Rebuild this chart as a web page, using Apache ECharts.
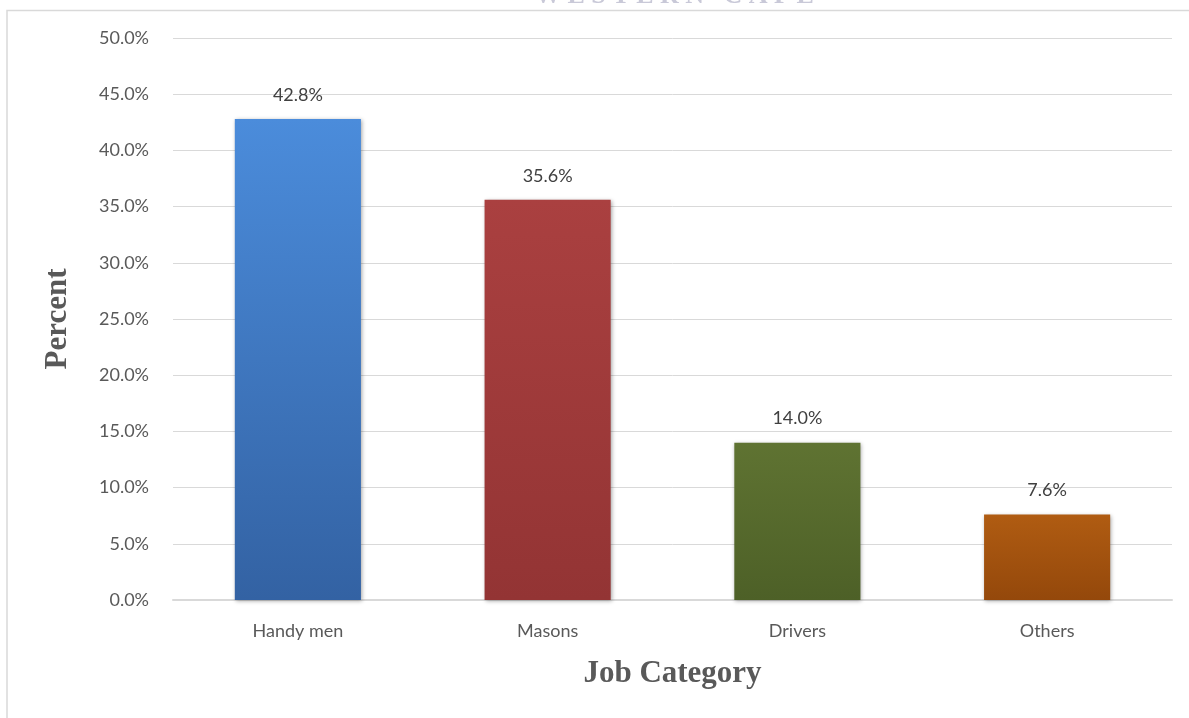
<!DOCTYPE html>
<html>
<head>
<meta charset="utf-8">
<script src="https://cdn.jsdelivr.net/npm/echarts@6/dist/echarts.min.js"></script>
<style>
  html, body { margin: 0; padding: 0; background: #fff; }
  #main { width: 1189px; height: 718px; }
</style>
</head>
<body>
<div id="main"></div>
<script>
var myChart = echarts.init(document.getElementById('main'));

// data
let categories = ['Handy men', 'Masons', 'Drivers', 'Others'];
let percents = [42.8, 35.6, 14.0, 7.6];
// top / bottom colours of each bar (bevel look)
let barTop = ['#4b8cdb', '#aa4040', '#5f7332', '#b05c12'];
let barBottom = ['#3362a3', '#933434', '#4d6027', '#94480b'];

function grad(i) {
    return new echarts.graphic.LinearGradient(0, 0, 0, 1, [
        { offset: 0, color: barTop[i] },
        { offset: 1, color: barBottom[i] }
    ]);
}

let textFont = 'Lato, "Open Sans", sans-serif';

option = {
    backgroundColor: '#ffffff',
    animation: false,
    graphic: [
        {
            // watermark cut off at the top
            type: 'text',
            left: 535,
            top: -17,
            style: {
                text: 'W E S T E R N   C A P E',
                font: 'bold 26px "Liberation Serif", serif',
                fill: '#c9c9d8'
            }
        },
        {
            type: 'polyline',
            shape: { points: [[7, 718], [7, 10.5], [1189, 10.5]] },
            style: { stroke: '#d9d9d9', lineWidth: 1.5, fill: null }
        }
    ],
    grid: {
        left: 173,
        right: 17,
        top: 38,
        bottom: 118
    },
    xAxis: {
        type: 'category',
        data: categories,
        name: 'Job Category',
        nameLocation: 'middle',
        nameGap: 58,
        nameTextStyle: {
            fontFamily: '"Liberation Serif", serif',
            fontWeight: 'bold',
            fontSize: 31,
            color: '#595959'
        },
        axisLine: { lineStyle: { color: '#d9d9d9', width: 2 } },
        axisTick: { show: false },
        axisLabel: {
            color: '#595959',
            fontSize: 18,
            fontFamily: textFont,
            margin: 22
        }
    },
    yAxis: {
        type: 'value',
        min: 0,
        max: 50,
        interval: 5,
        name: 'Percent',
        nameLocation: 'middle',
        nameGap: 100,
        nameTextStyle: {
            fontFamily: '"Liberation Serif", serif',
            fontWeight: 'bold',
            fontSize: 31,
            color: '#595959'
        },
        axisLine: { show: false },
        axisTick: { show: false },
        splitLine: { lineStyle: { color: '#d9d9d9', width: 1 } },
        axisLabel: {
            color: '#595959',
            fontSize: 18,
            fontFamily: textFont,
            margin: 24,
            formatter: function (v) { return v.toFixed(1) + '%'; }
        }
    },
    series: [{
        type: 'bar',
        barWidth: '50.5%',
        data: percents.map((v, i) => ({
            value: v,
            itemStyle: {
                color: grad(i),
                shadowColor: 'rgba(0,0,0,0.35)',
                shadowBlur: 4,
                shadowOffsetX: 1,
                shadowOffsetY: 1
            }
        })),
        label: {
            show: true,
            position: 'top',
            distance: 15,
            color: '#404040',
            fontSize: 18,
            fontFamily: textFont,
            formatter: function (p) { return p.value.toFixed(1) + '%'; }
        }
    }]
};
myChart.setOption(option);

window.addEventListener('resize', () => {
    myChart.resize();
});
</script>
</body>
</html>
